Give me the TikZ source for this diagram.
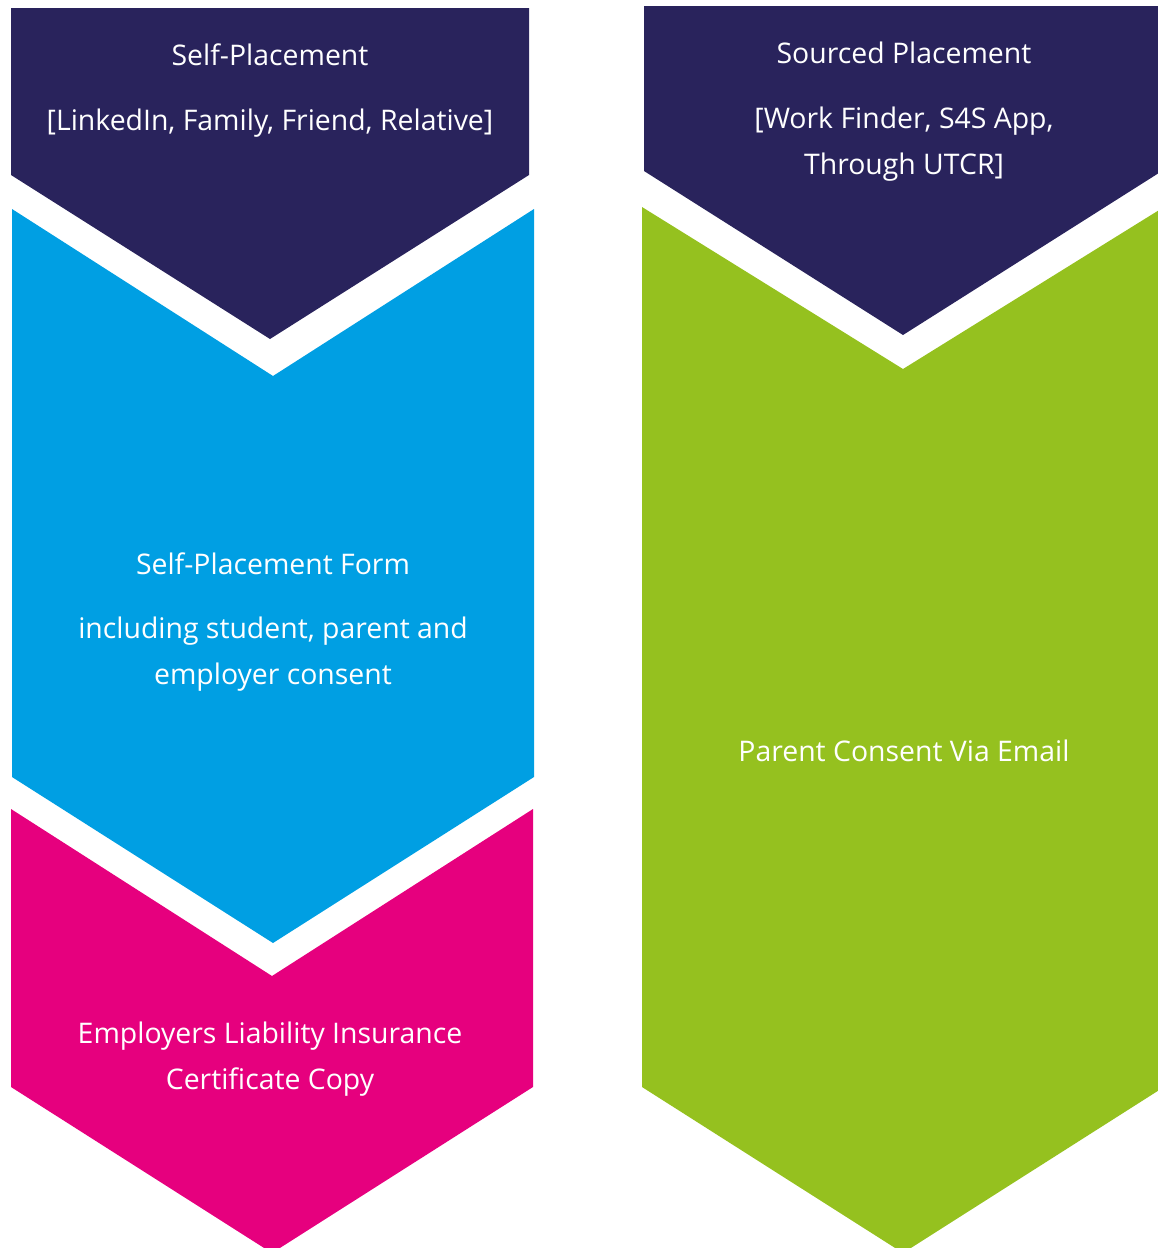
\documentclass[tikz,border=0pt]{standalone}
\usepackage{fontspec}
\setmainfont{Open Sans}
\definecolor{navy}{HTML}{29235C}
\definecolor{skyblue}{HTML}{009FE3}
\definecolor{magenta}{HTML}{E6007E}
\definecolor{lime}{HTML}{95C11F}
\tikzset{
  chev/.style={draw=none},
  lbl/.style={text=white, font=\fontsize{28.4}{46.5}\selectfont, align=center, inner sep=0pt, anchor=center},
}
\begin{document}
\begin{tikzpicture}[x=1pt,y=-1pt]
\useasboundingbox (0,0) rectangle (1158,1248);
\clip (0,0) rectangle (1158,1248);
% left column
\fill[navy, chev] (11,8) -- (529,8) -- (529,175) -- (270,339) -- (11,175) -- cycle;
\fill[skyblue, chev] (12,209) -- (273,376) -- (534,209) -- (534,777) -- (273,943) -- (12,777) -- cycle;
\fill[magenta, chev] (11,809) -- (272,976) -- (533,809) -- (533,1087) -- (272,1253) -- (11,1087) -- cycle;
% right column
\fill[navy, chev] (644,6) -- (1162,6) -- (1162,171) -- (903,335) -- (644,171) -- cycle;
\fill[lime, chev] (642,207) -- (903,369) -- (1164,207) -- (1164,1087) -- (903,1253) -- (642,1087) -- cycle;
% texts
\node[lbl] (t1) at (270,55) {Self-Placement};
\node[lbl] (t2) at (270,123) {[LinkedIn, Family, Friend, Relative]};
\node[lbl] (t3) at (904,53) {Sourced Placement};
\node[lbl] (t4) at (904,144) {[Work Finder, S4S App,\\Through UTCR]};
\node[lbl] (t5) at (273,564) {Self-Placement Form};
\node[lbl] (t6) at (273,654) {including student, parent and\\employer consent};
\node[lbl] (t7) at (904,751) {Parent Consent Via Email};
\node[lbl] (t8) at (270,1059) {Employers Liability Insurance\\Certificate Copy};
\end{tikzpicture}
\end{document}
